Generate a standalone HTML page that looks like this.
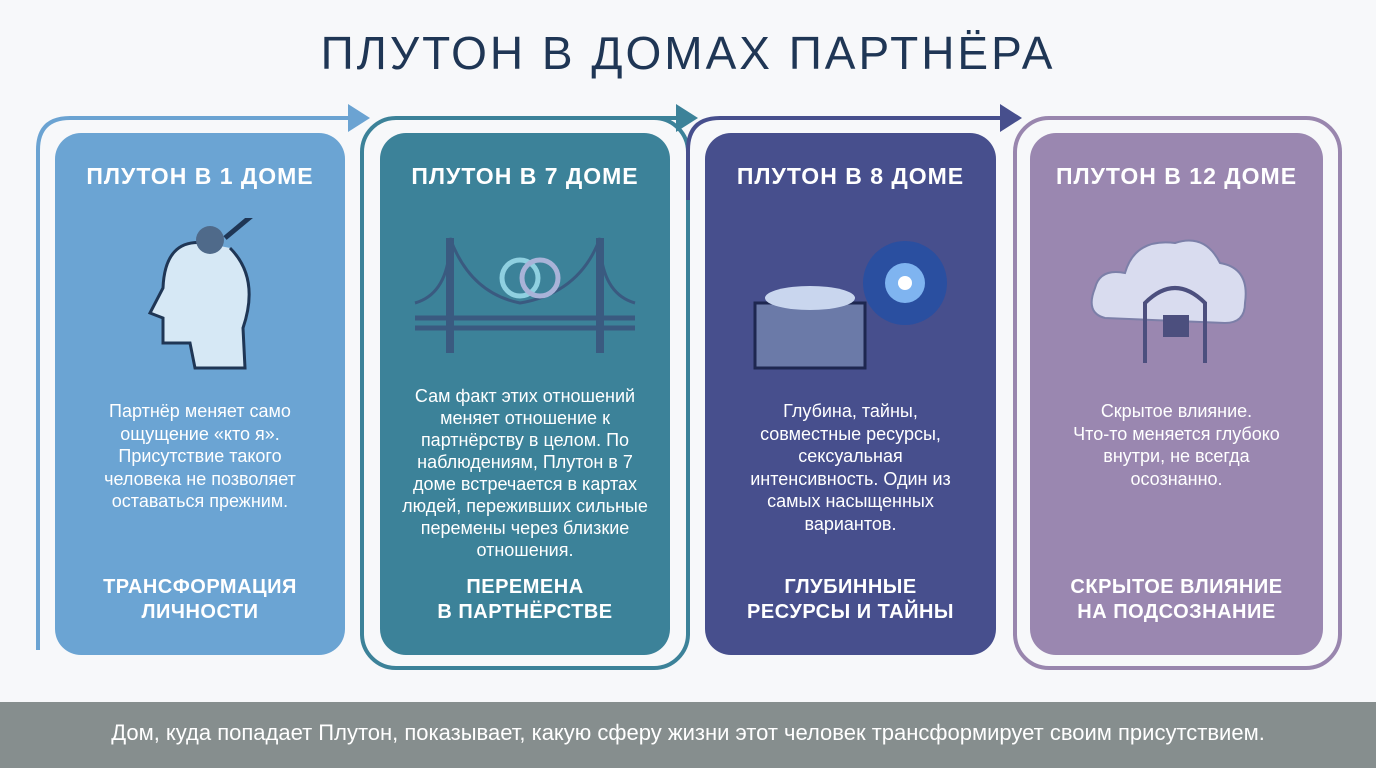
<!DOCTYPE html>
<html><head><meta charset="utf-8"><style>
body{margin:0;width:1376px;height:768px;overflow:hidden;background:#f7f8fa;font-family:"Liberation Sans","DejaVu Sans",sans-serif;position:relative}
.t{position:absolute;left:0;width:1376px;top:26px;text-align:center;font-size:46px;color:#1f3655;letter-spacing:3px}
.c{position:absolute;top:133px;height:522px;border-radius:26px;color:#fff;text-align:center}
.h{position:absolute;top:30px;left:0;right:0;font-weight:bold;font-size:23px;letter-spacing:1px}
.p{position:absolute;font-size:18px;line-height:22.5px}
.b{position:absolute;left:0;right:0;font-weight:bold;font-size:20px;line-height:25px;top:442px;letter-spacing:.5px}
.f{position:absolute;left:0;top:702px;width:1376px;height:66px;background:#868e8e;color:#fff;font-size:22px;text-align:center;line-height:62px}
svg.o{position:absolute;left:0;top:0}
</style></head><body>
<svg class="o" width="1376" height="700">
<path d="M38 650 V150 Q38 118 70 118 H355" fill="none" stroke="#6ba3d2" stroke-width="4"/>
<polygon points="348,104 370,118 348,132" fill="#6ba3d2"/>
<rect x="362" y="118" width="326" height="550" rx="34" fill="none" stroke="#3c8299" stroke-width="4"/>
<path d="M640 118 H685" stroke="#3c8299" stroke-width="4"/>
<polygon points="676,104 698,118 676,132" fill="#3c8299"/>
<path d="M688 200 V150 Q688 118 720 118 H1005" fill="none" stroke="#474f8d" stroke-width="4"/>
<polygon points="1000,104 1022,118 1000,132" fill="#474f8d"/>
<rect x="1015" y="118" width="325" height="550" rx="34" fill="none" stroke="#9986ae" stroke-width="4"/>
</svg>
<div class="t">ПЛУТОН В ДОМАХ ПАРТНЁРА</div>

<div class="c" style="left:55px;width:290px;background:#6ba4d3">
<div class="h">ПЛУТОН В 1 ДОМЕ</div>
<svg style="position:absolute;left:80px;top:85px" width="140" height="160"><path d="M70 25 Q30 20 28 70 L15 95 L28 100 L28 125 L55 125 L60 150 L110 150 L108 110 Q125 60 95 30" fill="#d6e8f5" stroke="#1f3655" stroke-width="3"/><path d="M90 20 L120 -5" stroke="#1f3655" stroke-width="5"/><circle cx="75" cy="22" r="14" fill="#4f6a8a"/></svg>
<div class="p" style="top:267px;left:35px;right:35px">Партнёр меняет само ощущение «кто я». Присутствие такого человека не позволяет оставаться прежним.</div>
<div class="b">ТРАНСФОРМАЦИЯ<br>ЛИЧНОСТИ</div>
</div>

<div class="c" style="left:380px;width:290px;background:#3c8299">
<div class="h">ПЛУТОН В 7 ДОМЕ</div>
<svg style="position:absolute;left:30px;top:100px" width="230" height="125"><path d="M5 95 H225 M5 85 H225" stroke="#3a5a80" stroke-width="5"/><path d="M40 5 V120 M190 5 V120" stroke="#3a5a80" stroke-width="8"/><path d="M5 70 Q40 60 40 5 Q60 60 110 70 Q170 60 190 5 Q190 60 225 70" fill="none" stroke="#3a5a80" stroke-width="3"/><circle cx="110" cy="45" r="18" fill="none" stroke="#8fd0e0" stroke-width="5"/><circle cx="130" cy="45" r="18" fill="none" stroke="#a9b3d8" stroke-width="5"/></svg>
<div class="p" style="top:252px;left:18px;right:18px;line-height:22px">Сам факт этих отношений меняет отношение к партнёрству в целом. По наблюдениям, Плутон в 7 доме встречается в картах людей, переживших сильные перемены через близкие отношения.</div>
<div class="b">ПЕРЕМЕНА<br>В ПАРТНЁРСТВЕ</div>
</div>

<div class="c" style="left:705px;width:291px;background:#474f8d">
<div class="h">ПЛУТОН В 8 ДОМЕ</div>
<svg style="position:absolute;left:40px;top:95px" width="220" height="150"><rect x="10" y="75" width="110" height="65" fill="#6b7aa8" stroke="#1e2750" stroke-width="3"/><ellipse cx="65" cy="70" rx="45" ry="12" fill="#c9d6ee"/><circle cx="160" cy="55" r="42" fill="#2a4fa0"/><circle cx="160" cy="55" r="20" fill="#7fb4f0"/><circle cx="160" cy="55" r="7" fill="#fff"/></svg>
<div class="p" style="top:267px;left:45px;right:45px">Глубина, тайны, совместные ресурсы, сексуальная интенсивность. Один из самых насыщенных вариантов.</div>
<div class="b">ГЛУБИННЫЕ<br>РЕСУРСЫ И ТАЙНЫ</div>
</div>

<div class="c" style="left:1030px;width:293px;background:#9a87b0">
<div class="h">ПЛУТОН В 12 ДОМЕ</div>
<svg style="position:absolute;left:55px;top:90px" width="180" height="150"><path d="M20 95 Q0 90 10 65 Q15 45 40 50 Q50 15 90 20 Q120 10 135 40 Q165 45 160 80 Q160 100 140 100 Z" fill="#d9dcef" stroke="#7c7fa8" stroke-width="2"/><path d="M60 140 V80 Q90 50 120 80 V140" fill="none" stroke="#4c4f7e" stroke-width="4"/><rect x="78" y="92" width="26" height="22" fill="#4c4f7e"/></svg>
<div class="p" style="top:267px;left:38px;right:38px">Скрытое влияние.<br>Что-то меняется глубоко внутри, не всегда осознанно.</div>
<div class="b">СКРЫТОЕ ВЛИЯНИЕ<br>НА ПОДСОЗНАНИЕ</div>
</div>

<div class="f">Дом, куда попадает Плутон, показывает, какую сферу жизни этот человек трансформирует своим присутствием.</div>
</body></html>
